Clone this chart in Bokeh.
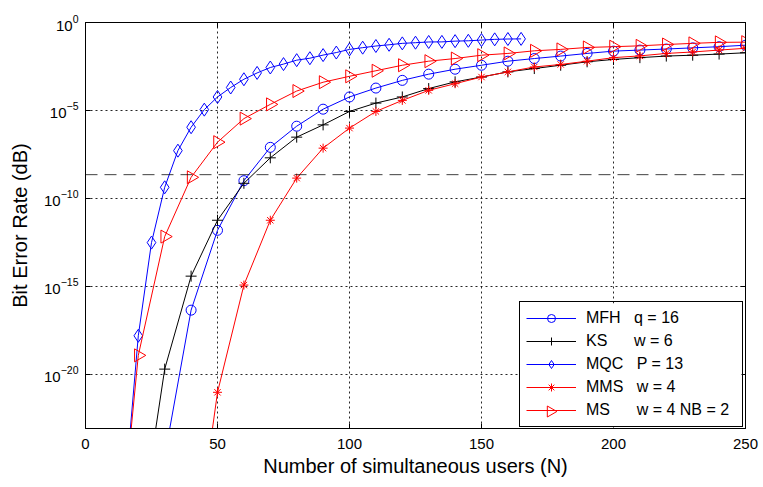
import numpy as np
from bokeh.plotting import figure
from bokeh.models import Range1d, FixedTicker, LogAxis, LinearAxis, Span, Legend, LegendItem, BoxAnnotation
from bokeh.embed import file_html
from bokeh.resources import INLINE

# ---- data ----
mfh_x = [30, 40, 50, 60, 70, 80, 90, 100, 110, 120, 130, 140, 150, 160, 170, 180, 190, 200, 210, 220, 230, 240, 250]
mfh_y = [2e-25, 4.3e-17, 1.5e-12, 1.0e-9, 7.9e-8, 1.26e-6, 1.17e-5, 5.8e-5, 1.86e-4, 5.1e-4, 1.15e-3, 2.2e-3,
         3.7e-3, 6.3e-3, 8.9e-3, 1.23e-2, 1.74e-2, 2.35e-2, 2.7e-2, 3.1e-2, 3.6e-2, 4.2e-2, 5.1e-2]

ks_x = [20, 30, 40, 50, 60, 70, 80, 90, 100, 110, 120, 130, 140, 150, 160, 170, 180, 190, 200, 210, 220, 230, 240, 250]
ks_y = [2e-30, 1.9e-20, 3.7e-15, 5.6e-12, 7.1e-10, 2.0e-8, 3.0e-7, 1.5e-6, 8.7e-6, 2.6e-5, 5.8e-5, 1.74e-4,
        4.2e-4, 7.9e-4, 1.55e-3, 2.4e-3, 3.7e-3, 5.8e-3, 7.9e-3, 1.0e-2, 1.23e-2, 1.38e-2, 1.6e-2, 1.9e-2]

mqc_x = [15, 20, 25, 30, 35, 40, 45, 50, 55, 60, 65, 70, 75, 80, 85, 90, 95, 100, 105, 110, 115, 120, 125,
         130, 135, 140, 145, 150, 155, 160, 165]
mqc_y = [2.5e-27, 1.5e-18, 3.0e-13, 4.2e-10, 5.1e-8, 1.1e-6, 1.1e-5, 5.8e-5, 2.0e-4, 5.9e-4, 1.35e-3, 2.75e-3,
         4.3e-3, 7.2e-3, 9.3e-3, 1.4e-2, 1.95e-2, 2.95e-2, 3.7e-2, 4.6e-2, 5.4e-2, 6.5e-2, 7.1e-2, 7.8e-2,
         7.9e-2, 8.7e-2, 9.1e-2, 0.100, 0.110, 0.115, 0.117]

mms_x = [40, 50, 60, 70, 80, 90, 100, 110, 120, 130, 140, 150, 160, 170, 180, 190, 200, 210, 220, 230, 240, 250]
mms_y = [1.3e-32, 9.1e-22, 1.15e-15, 5.6e-12, 1.4e-9, 7.1e-8, 9.8e-7, 8.7e-6, 3.7e-5, 1.38e-4, 3.3e-4, 7.9e-4,
         1.55e-3, 2.95e-3, 4.1e-3, 6.3e-3, 1.0e-2, 1.26e-2, 1.74e-2, 2.1e-2, 2.7e-2, 3.4e-2]

ms_x = [10, 20, 30, 40, 50, 60, 70, 80, 90, 100, 110, 120, 130, 140, 150, 160, 170, 180, 190, 200, 210, 220, 230, 240, 250]
ms_y = [4e-35, 1.15e-19, 6.6e-13, 1.55e-9, 1.55e-7, 3.4e-6, 2.2e-5, 1.26e-4, 4.0e-4, 8.7e-4, 1.8e-3, 3.7e-3,
        6.3e-3, 8.9e-3, 1.38e-2, 1.74e-2, 2.45e-2, 2.95e-2, 3.8e-2, 4.2e-2, 4.7e-2, 5.6e-2, 6.5e-2, 7.4e-2, 7.6e-2]

threshold = 2.2e-9
x_ticks = [0, 50, 100, 150, 200, 250]
y_ticks = [1e-20, 1e-15, 1e-10, 1e-5, 1.0]

NB = "\u00a0"
labels = [
    "MFH" + NB * 3 + "q = 16",
    "KS" + NB * 6 + "w = 6",
    "MQC" + NB * 3 + "P = 13",
    "MMS" + NB * 3 + "w = 4",
    "MS" + NB * 6 + "w = 4 NB = 2",
]

FONT = "Liberation Sans"
X0, X1 = 0, 250
LOG_Y0, LOG_Y1 = -23.1, 0.0
FW, FH = 660, 406


def px_to_data(px, py):
    """frame pixel offsets (from bottom-left) -> data coordinates (for legend decorations)"""
    return X0 + px / FW * (X1 - X0), 10 ** (LOG_Y0 + py / FH * (LOG_Y1 - LOG_Y0))


p = figure(frame_width=FW, frame_height=FH,
           y_axis_type="log",
           x_range=Range1d(X0, X1), y_range=Range1d(10 ** LOG_Y0, 10 ** LOG_Y1),
           output_backend="svg", toolbar_location=None,
           min_border_left=85, min_border_right=18, min_border_top=22, min_border_bottom=58)

p.background_fill_color = "white"
p.border_fill_color = "white"
p.outline_line_color = "black"
p.outline_line_width = 1

# axes
for ax in [p.xaxis[0], p.yaxis[0]]:
    ax.axis_line_color = "black"
    ax.major_tick_line_color = "black"
    ax.major_tick_in = 5
    ax.major_tick_out = 0
    ax.minor_tick_line_color = None
    ax.major_label_text_font = FONT
    ax.major_label_text_font_size = "15px"
    ax.major_label_text_color = "black"
    ax.axis_label_text_font = FONT
    ax.axis_label_text_font_size = "20px"
    ax.axis_label_text_font_style = "normal"
    ax.axis_label_text_color = "black"

p.xaxis.ticker = FixedTicker(ticks=x_ticks)
p.yaxis.ticker = FixedTicker(ticks=y_ticks)
p.xaxis.axis_label = "Number of simultaneous users (N)"
p.yaxis.axis_label = "Bit Error Rate (dB)"
p.xaxis.major_label_standoff = 10
p.yaxis.major_label_standoff = 7
p.xaxis.axis_label_standoff = 3
p.yaxis.axis_label_standoff = 10

# tick marks on the top and right edges (no labels)
top = LinearAxis(ticker=FixedTicker(ticks=x_ticks), major_tick_in=5, major_tick_out=0,
                 minor_tick_line_color=None, major_label_text_color=None,
                 major_label_text_font_size="8px", major_label_standoff=0, axis_line_color="black")
right = LogAxis(ticker=FixedTicker(ticks=y_ticks), major_tick_in=5, major_tick_out=0,
                minor_tick_line_color=None, major_label_text_color=None,
                major_label_text_font_size="8px", major_label_standoff=0, axis_line_color="black")
p.add_layout(top, "above")
p.add_layout(right, "right")

# grid
p.xgrid.ticker = FixedTicker(ticks=x_ticks)
p.ygrid.ticker = FixedTicker(ticks=y_ticks)
for g in [p.xgrid[0], p.ygrid[0]]:
    g.grid_line_color = "black"
    g.grid_line_dash = "2 3"
    g.grid_line_width = 1
    g.grid_line_alpha = 0.85
    g.minor_grid_line_color = None

p.add_layout(Span(location=threshold, dimension="width", line_color="black",
                  line_dash="12 7", line_width=1, line_alpha=0.75))

items = []
series = [
    (mfh_x, mfh_y, "blue", "circle", 10, 0.0),
    (ks_x, ks_y, "black", "cross", 11, 0.0),
    (mqc_x, mqc_y, "blue", "diamond", 13, 0.0),
    (mms_x, mms_y, "red", "asterisk", 9, 0.0),
    (ms_x, ms_y, "red", "triangle", 13, -np.pi / 2),
]
for i, ((xs, ys, col, mk, sz, ang), lab) in enumerate(zip(series, labels)):
    lr = p.line(xs, ys, line_color=col, line_width=1)
    sr = p.scatter(xs, ys, marker=mk, size=sz, angle=ang, line_color=col, fill_color=None, line_width=1)
    # the legend cannot rotate markers: the right-pointing triangle symbol is drawn separately below
    items.append(LegendItem(label=lab, renderers=[lr] if i == 4 else [lr, sr]))

LEG_X, LEG_Y, PAD, GW, GH, LW = 434, 1, 6, 50, 20, 150
LEG_W = 2 * PAD + GW + 10 + LW
LEG_H = 2 * PAD + 5 * GH + 4 * 3

# white backing of the legend box (the legend itself is transparent so its symbol can sit on top)
bx0, by0 = px_to_data(LEG_X, LEG_Y)
bx1, by1 = px_to_data(LEG_X + LEG_W, LEG_Y + LEG_H)
p.add_layout(BoxAnnotation(left=bx0, right=bx1, bottom=by0, top=by1,
                           fill_color="white", fill_alpha=1.0, line_color=None))

legend = Legend(items=items, location=(LEG_X, LEG_Y), margin=0,
                padding=PAD, spacing=3, glyph_width=GW, glyph_height=GH, label_height=20,
                label_standoff=10, label_width=LW,
                label_text_font=FONT, label_text_font_size="16px", label_text_color="black",
                border_line_color="black", border_line_width=1, border_line_alpha=1,
                background_fill_color="white", background_fill_alpha=0.0)
p.add_layout(legend)

# legend symbol for "MS" (a right-pointing triangle), at the centre of its legend glyph box
sx, sy = px_to_data(LEG_X + PAD + GW / 2, LEG_Y + PAD + GH / 2)
p.scatter([sx], [sy], marker="triangle", size=11, angle=-np.pi / 2,
          line_color="red", fill_color="white", line_width=1, level="overlay")

open("out.html", "w").write(file_html(p, INLINE))
